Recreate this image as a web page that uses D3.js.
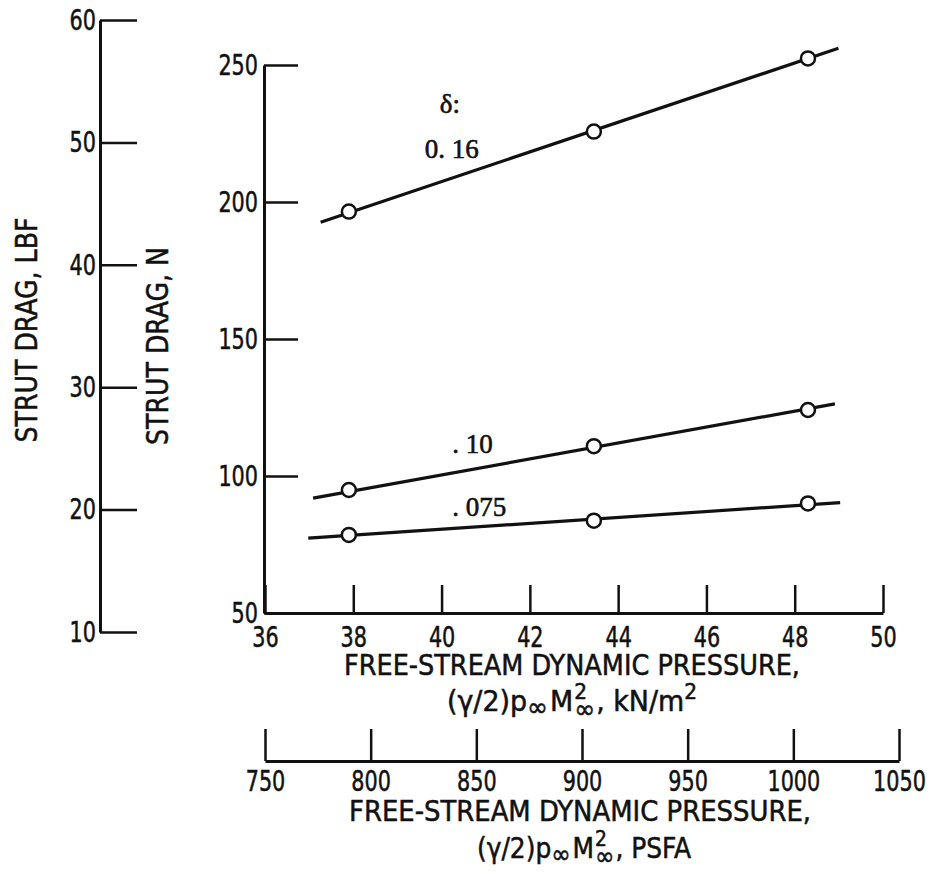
<!DOCTYPE html>
<html>
<head>
<meta charset="utf-8">
<script src="https://cdn.jsdelivr.net/npm/d3@7"></script>
<style>
  body { margin: 0; background: #fff; }
  svg { display: block; }
  .lbl { font-family: "Liberation Sans Narrow", "DejaVu Sans Condensed", "Arial Narrow", sans-serif; fill: #111; stroke: #111; stroke-width: 0.5; }
  .crv { font-family: "Liberation Serif", "DejaVu Serif", "Times New Roman", serif; fill: #111; stroke: #111; stroke-width: 0.6; }
</style>
</head>
<body>
<div id="chart"></div>
<script>

// test points, dynamic pressure kN/m^2
var pressure = [37.9, 43.45, 48.3];

// strut drag, N
var drag016 = [196.5, 225.7, 252.4];
var drag010 = [94.9, 110.9, 124.1];
var drag0075 = [78.5, 83.7, 90.0];

// faired lines (start, end)
var fairP016 = [37.26, 48.99], fairD016 = [192.6, 256.1];
var fairP010 = [37.09, 48.91], fairD010 = [91.9, 126.3];
var fairP0075 = [36.98, 49.03], fairD0075 = [77.3, 90.3];

var deltaNames = ["0. 16", ". 10", ". 075"];

// ticks
var pressureTicks = [36, 38, 40, 42, 44, 46, 48, 50];
var psfaTicks = [750, 800, 850, 900, 950, 1000, 1050];
var dragNTicks = [50, 100, 150, 200, 250];
var dragLbfTicks = [10, 20, 30, 40, 50, 60];


DragVis = function (_parentElement) {
  this.parentElement = _parentElement;
  this.displayData = [];

  this.width = 933;
  this.height = 875;

  this.initVis();
}


DragVis.prototype.initVis = function () {

  var that = this;
  var fmt = d3.format("d");

  this.svg = this.parentElement.append("svg")
                 .attr("width", this.width)
                 .attr("height", this.height);

  this.x = d3.scaleLinear().domain([36, 50]).range([265, 883]);
  this.xPsf = d3.scaleLinear().domain([750, 1050]).range([265, 899]);
  this.y = d3.scaleLinear().domain([50, 250]).range([613, 65]);
  this.yLbf = d3.scaleLinear().domain([10, 60]).range([632, 20]);

  // LBF axis, far left
  this.axisStyle(this.svg.append("g")
      .attr("transform", "translate(100,0)")
      .call(d3.axisLeft(this.yLbf).tickValues(dragLbfTicks).tickFormat(fmt)
              .tickSizeInner(-37).tickSizeOuter(0).tickPadding(4)));

  // N axis
  this.axisStyle(this.svg.append("g")
      .attr("transform", "translate(264,0)")
      .call(d3.axisLeft(this.y).tickValues(dragNTicks).tickFormat(fmt)
              .tickSizeInner(-34).tickSizeOuter(0).tickPadding(6)));

  // kN/m^2 axis
  this.axisStyle(this.svg.append("g")
      .attr("transform", "translate(0,613)")
      .call(d3.axisBottom(this.x).tickValues(pressureTicks).tickFormat(fmt)
              .tickSizeInner(-28).tickSizeOuter(0).tickPadding(13)));

  // PSFA axis
  this.axisStyle(this.svg.append("g")
      .attr("transform", "translate(0,761)")
      .call(d3.axisBottom(this.xPsf).tickValues(psfaTicks).tickFormat(fmt)
              .tickSizeInner(-32).tickSizeOuter(0).tickPadding(9)));

  // y titles
  this.svg.append("text").attr("class", "lbl")
      .attr("transform", "translate(37,330) rotate(-90)")
      .attr("text-anchor", "middle").attr("font-size", 30)
      .attr("textLength", 225).attr("lengthAdjust", "spacingAndGlyphs")
      .text("STRUT DRAG, LBF");
  this.svg.append("text").attr("class", "lbl")
      .attr("transform", "translate(168,346) rotate(-90)")
      .attr("text-anchor", "middle").attr("font-size", 30)
      .attr("textLength", 198).attr("lengthAdjust", "spacingAndGlyphs")
      .text("STRUT DRAG, N");

  // x titles
  this.svg.append("text").attr("class", "lbl")
      .attr("x", 572).attr("y", 675)
      .attr("text-anchor", "middle").attr("font-size", 28)
      .attr("textLength", 456).attr("lengthAdjust", "spacingAndGlyphs")
      .text("FREE-STREAM DYNAMIC PRESSURE,");
  this.mathLine(572, 711, "kN/m", true, 250);

  this.svg.append("text").attr("class", "lbl")
      .attr("x", 580).attr("y", 821)
      .attr("text-anchor", "middle").attr("font-size", 28)
      .attr("textLength", 462).attr("lengthAdjust", "spacingAndGlyphs")
      .text("FREE-STREAM DYNAMIC PRESSURE,");
  this.mathLine(584, 858, "PSFA", false, 214);

  this.wrangleData();
  this.updateVis();
}


DragVis.prototype.axisStyle = function (g) {
  g.attr("font-family", null).attr("font-size", null);
  g.select(".domain").attr("stroke", "#111").attr("stroke-width", 3);
  g.selectAll(".tick line").attr("stroke", "#111").attr("stroke-width", 2.5);
  // squeeze the digits, the original lettering is condensed
  g.selectAll(".tick text")
   .attr("class", "lbl").attr("font-size", 29).attr("fill", "#111")
   .attr("textLength", function () { return this.textContent.length * 13.2; })
   .attr("lengthAdjust", "spacingAndGlyphs");
}


DragVis.prototype.mathLine = function (cx, y, unit, sup, total) {
  var grp = this.svg.append("g");
  var x = 0;
  function piece(str, size, dy) {
    var t = grp.append("text").attr("class", "lbl").attr("x", x).attr("y", dy)
               .attr("font-size", size).text(str);
    return t.node().getComputedTextLength();
  }
  x += piece("(\u03b3/2)p", 28, 0);
  x += piece("\u221e", 26, 5) + 2;
  x += piece("M", 28, 0) + 1;
  var w1 = piece("2", 21, -12);
  var w2 = piece("\u221e", 26, 7);
  x += Math.max(w1, w2) + 1;
  x += piece(",  " + unit, 28, 0);
  if (sup) x += piece("2", 21, -12);
  // squeeze horizontally to the measured width
  var k = total / x;
  grp.attr("transform", "translate(" + (cx - total / 2) + "," + y + ") scale(" + k + ",1)");
}


DragVis.prototype.wrangleData = function () {
  this.displayData = [
    { name: deltaNames[0], drag: drag016, fairP: fairP016, fairD: fairD016, lx: 39.62, ly: 216 },
    { name: deltaNames[1], drag: drag010, fairP: fairP010, fairD: fairD010, lx: 40.24, ly: 108.4 },
    { name: deltaNames[2], drag: drag0075, fairP: fairP0075, fairD: fairD0075, lx: 40.24, ly: 85.4 }
  ];
}


DragVis.prototype.updateVis = function () {

  var that = this;
  var line = d3.line()
               .x(function (d) { return that.x(d[0]); })
               .y(function (d) { return that.y(d[1]); });

  var holder = this.svg.append("g")
                .selectAll("g.delta")
                .data(this.displayData)
                .enter()
                .append("g")
                .attr("class", "delta");

  holder.append("path")
        .attr("d", function (d) { return line(d3.zip(d.fairP, d.fairD)); })
        .attr("fill", "none")
        .attr("stroke", "#111")
        .attr("stroke-width", 3.2);

  holder.selectAll("circle")
        .data(function (d) { return d3.zip(pressure, d.drag); })
        .enter()
        .append("circle")
        .attr("cx", function (d) { return that.x(d[0]); })
        .attr("cy", function (d) { return that.y(d[1]); })
        .attr("r", 7)
        .attr("fill", "#fff")
        .attr("stroke", "#111")
        .attr("stroke-width", 2.5);

  holder.append("text")
        .attr("class", "crv")
        .attr("x", function (d) { return that.x(d.lx); })
        .attr("y", function (d) { return that.y(d.ly); })
        .attr("font-size", 27)
        .text(function (d) { return d.name; });

  // delta heading over the top curve
  this.svg.append("text")
      .attr("class", "crv")
      .attr("x", this.x(39.96))
      .attr("y", this.y(232.5))
      .attr("font-size", 27)
      .text("\u03b4:");
}


var vis = new DragVis(d3.select("#chart"));

</script>
</body>
</html>
